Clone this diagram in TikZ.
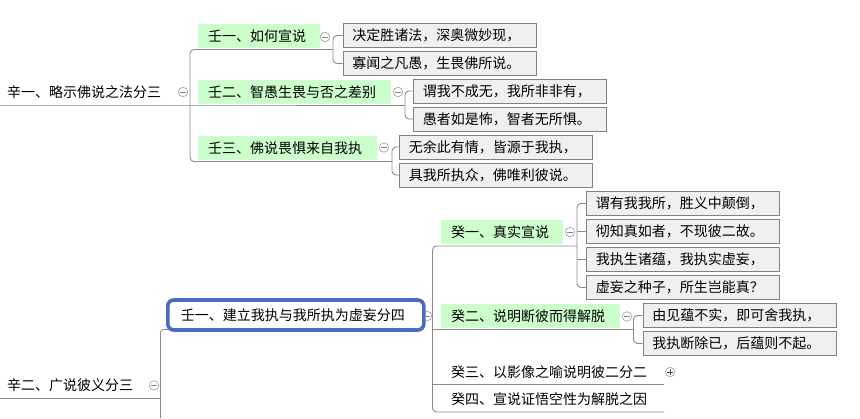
\documentclass[tikz,border=0pt]{standalone}
\usepackage{fontspec}
\setmainfont{Noto Sans CJK SC}
\definecolor{lgreen}{HTML}{CCFFCC}
\definecolor{lgray}{HTML}{F0F0F0}
\definecolor{bdr}{HTML}{808080}
\definecolor{lnc}{HTML}{8A8A8A}
\definecolor{blu}{HTML}{4A6CC0}
\definecolor{icn}{HTML}{A8A8A8}
\definecolor{icm}{HTML}{7A84B0}
\newcommand{\mmfs}{\fontsize{14pt}{16pt}\selectfont}
\tikzset{
  base/.style={font=\mmfs, inner ysep=0pt, anchor=west, align=left, text=black},
  plain/.style={base, inner xsep=0pt},
  grn/.style={base, fill=lgreen, minimum height=24pt, inner xsep=10pt, text width=#1},
  leaf/.style={base, fill=lgray, draw=bdr, line width=0.8pt, minimum height=24pt, inner xsep=9.5pt, text width=174pt},
  sel/.style={base, fill=white, draw=blu, line width=3.6pt, rounded corners=6pt, minimum height=30pt, inner xsep=13pt, text width=230pt},
  ln/.style={draw=lnc, line width=0.9pt},
  icon/.style={circle, draw=icn, fill=white, line width=0.7pt, minimum size=9.5pt, inner sep=0pt,
    path picture={\draw[icm, line width=0.8pt] ([xshift=-2.6pt]path picture bounding box.center) -- ([xshift=2.6pt]path picture bounding box.center);}},
  iconplus/.style={circle, draw=icn, fill=white, line width=0.7pt, minimum size=9.5pt, inner sep=0pt,
    path picture={\draw[black!70, line width=0.8pt] ([xshift=-2.6pt]path picture bounding box.center) -- ([xshift=2.6pt]path picture bounding box.center) ([yshift=-2.6pt]path picture bounding box.center) -- ([yshift=2.6pt]path picture bounding box.center);}}
}
\begin{document}
\begin{tikzpicture}[x=1pt,y=-1pt]
\useasboundingbox (0,0) rectangle (860,418);
% ---------- junction coordinates ----------
\coordinate (A1l) at (0,105);
\coordinate (vA1) at (190,105);
\coordinate (vB1) at (333,49.5);
\coordinate (vB2) at (405,105);
\coordinate (vB3) at (392,161.5);
\coordinate (A2l) at (0,398);
\coordinate (vA2) at (160.5,398);
\coordinate (vA2b) at (160.5,418);
\coordinate (vB4) at (432.5,329.3);
\coordinate (vD1) at (577,246);
\coordinate (vD2) at (633.5,329.3);
\coordinate (eD3) at (664,384);
\coordinate (eD4) at (664,412);

% ---------- nodes ----------
\node[plain] (A1) at (7,92) {辛一、略示佛说之法分三};
\node[grn=102pt] (B1) at (198,36) {壬一、如何宣说};
\node[grn=173pt] (B2) at (198,92) {壬二、智愚生畏与否之差别};
\node[grn=159pt] (B3) at (198,148) {壬三、佛说畏惧来自我执};
\node[leaf] (C11) at (342.5,35.5) {决定胜诸法，深奥微妙现，};
\node[leaf] (C12) at (342.5,63.5) {寡闻之凡愚，生畏佛所说。};
\node[leaf] (C21) at (413,91) {谓我不成无，我所非非有，};
\node[leaf] (C22) at (413,119) {愚者如是怖，智者无所惧。};
\node[leaf] (C31) at (399,147) {无余此有情，皆源于我执，};
\node[leaf] (C32) at (399,175) {具我所执众，佛唯利彼说。};

\node[plain] (A2) at (7,385.5) {辛二、广说彼义分三};
\node[grn=102pt] (D1) at (441,232) {癸一、真实宣说};
\node[grn=159pt] (D2) at (441,316) {癸二、说明断彼而得解脱};
\node[plain] (D3) at (451,372) {癸三、以影像之喻说明彼二分二};
\node[plain] (D4) at (451,399.5) {癸四、宣说证悟空性为解脱之因};
\node[leaf] (E11) at (586,203.5) {谓有我我所，胜义中颠倒，};
\node[leaf] (E12) at (586,231.5) {彻知真如者，不现彼二故。};
\node[leaf] (E13) at (586,259.5) {我执生诸蕴，我执实虚妄，};
\node[leaf] (E14) at (586,287.5) {虚妄之种子，所生岂能真？};
\node[leaf] (E21) at (642.5,315.5) {由见蕴不实，即可舍我执，};
\node[leaf] (E22) at (642.5,343.5) {我执断除已，后蕴则不起。};

% ---------- connectors ----------
\draw[ln] (A1l) -- (vA1) -- (vB2);
\draw[ln, rounded corners=4pt] (vB1) -- (vA1 |- vB1) -- (vA1 |- vB3) -- (vB3);
\draw[ln, rounded corners=4pt] (C11.west) -- (C11.west -| vB1) -- (C12.west -| vB1) -- (C12.west);
\draw[ln, rounded corners=4pt] (C21.west) -- (C21.west -| vB2) -- (C22.west -| vB2) -- (C22.west);
\draw[ln, rounded corners=4pt] (C31.west) -- (C31.west -| vB3) -- (C32.west -| vB3) -- (C32.west);

\draw[ln] (A2l) -- (vA2);
\draw[ln] (vB4) -- (vD2);
\draw[ln] (vB4 |- eD3) -- (eD3);
\draw[ln, rounded corners=4pt] (vD1) -- (vB4 |- vD1) -- (vB4 |- eD4) -- (eD4);
\draw[ln, rounded corners=4pt] (E11.west) -- (E11.west -| vD1) -- (E14.west -| vD1) -- (E14.west);
\draw[ln] (E12.west -| vD1) -- (E12.west);
\draw[ln] (E13.west -| vD1) -- (E13.west);
\draw[ln, rounded corners=4pt] (E21.west) -- (E21.west -| vD2) -- (E22.west -| vD2) -- (E22.west);

% ---------- icons ----------
\node[icon] (kA1) at (183,92) {};
\node[icon] (kB1) at (325,37) {};
\node[icon] (kB2) at (398,92) {};
\node[icon] (kB3) at (384,147.5) {};
\node[icon] (kA2) at (154,385.5) {};
\node[icon] (kB4) at (427,316) {};
\node[icon] (kD1) at (570,232) {};
\node[icon] (kD2) at (627,316.5) {};
\node[iconplus] (kD3) at (670,372) {};

% ---------- selected node ----------
\draw[ln, rounded corners=3pt] (170,329.5) -- (vA2 |- 0,329.5) -- (vA2b);
\node[sel] (B4) at (166,315) {壬一、建立我执与我所执为虚妄分四};
\end{tikzpicture}
\end{document}
